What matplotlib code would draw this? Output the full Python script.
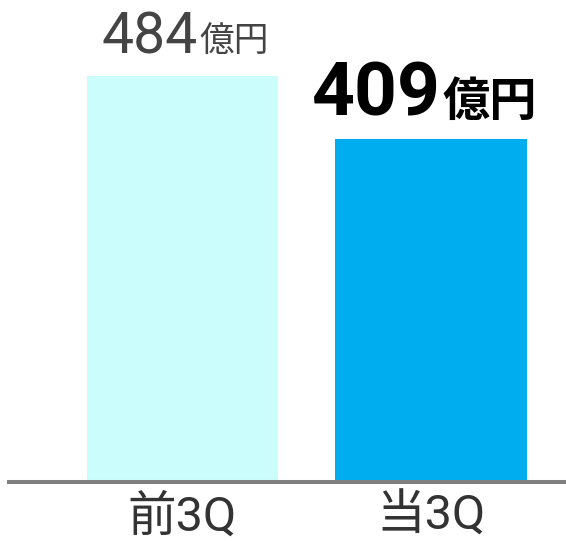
import matplotlib
matplotlib.use("Agg")
import matplotlib.pyplot as plt

plt.rcParams['font.family'] = ['Roboto', 'Noto Sans CJK JP', 'DejaVu Sans']

# data
categories = ["前3Q", "当3Q"]
values = [484, 409]
unit = "億円"
bar_colors = ["#ccfdfd", "#00aeef"]

fig = plt.figure(figsize=(5.66, 5.41), dpi=100)
ax = fig.add_axes([0, 61 / 541, 1, 480 / 541])

x = range(len(values))
ax.bar(x, values, width=0.771, color=bar_colors, zorder=2)

ax.set_xlim(-0.734, 1.543)
ax.set_ylim(0, 575.5)

# baseline
ax.axhline(-2.4, xmin=9 / 566, xmax=1, color="#808080", lw=2.9, zorder=3, clip_on=False)

# value labels: previous period light, current period bold
num_style = [dict(size=41, color="#444444", weight="normal"),
             dict(size=54, color="#000000", weight="bold")]
unit_style = [dict(size=25, color="#444444", weight="normal"),
              dict(size=34, color="#000000", weight="bold")]
num_off = [(11, 16.5), (7.2, 16.5)]
unit_off = [(12, 17.5), (8.5, 16.5)]
for i, v in enumerate(values):
    ax.annotate(str(v), xy=(i, v), xytext=num_off[i], textcoords="offset points",
                ha="right", va="baseline", **num_style[i])
    ax.annotate(unit, xy=(i, v), xytext=unit_off[i], textcoords="offset points",
                ha="left", va="baseline", **unit_style[i])

ax.set_xticks(list(x))
ax.set_xticklabels(categories, fontsize=35, color="#333333")
ax.tick_params(axis="x", length=0, pad=10)
ax.set_yticks([])
for s in ax.spines.values():
    s.set_visible(False)

fig.savefig("out.png", dpi=100)
